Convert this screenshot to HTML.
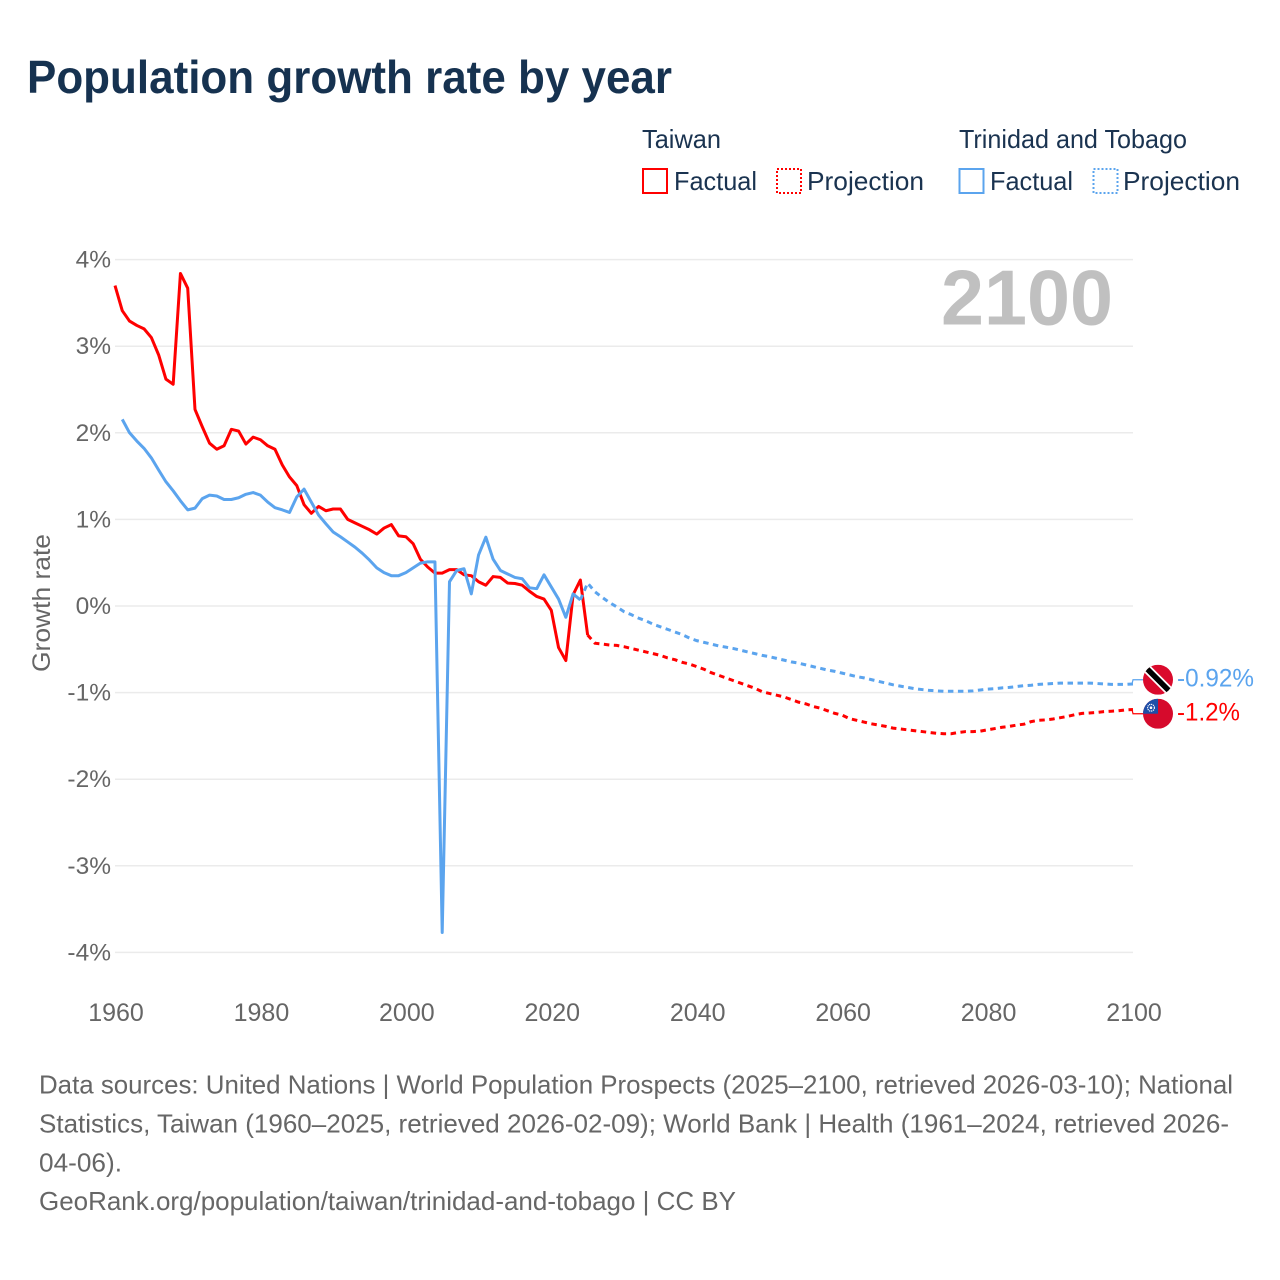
<!DOCTYPE html>
<html lang="en">
<head>
<meta charset="utf-8">
<title>Population growth rate by year</title>
<style>
html,body{margin:0;padding:0;background:#fff;}
svg{display:block;font-family:"Liberation Sans",sans-serif;}
</style>
</head>
<body>
<svg id="chart" width="1280" height="1280" viewBox="0 0 1280 1280" xmlns="http://www.w3.org/2000/svg">
  <defs>
    <clipPath id="clip-flag-tt"><circle cx="15" cy="15" r="15"/></clipPath>
    <clipPath id="clip-flag-tw"><circle cx="15" cy="15" r="15"/></clipPath>
  </defs>
  <rect width="1280" height="1280" fill="#fff"/>
  <text x="27" y="93" font-size="46" font-weight="700" fill="#163250" textLength="645" lengthAdjust="spacingAndGlyphs">Population growth rate by year</text>

  <g font-size="26" fill="#1a3350">
    <text x="642" y="148" textLength="79" lengthAdjust="spacingAndGlyphs">Taiwan</text>
    <text x="959" y="148" textLength="228" lengthAdjust="spacingAndGlyphs">Trinidad and Tobago</text>
    <rect x="643" y="169" width="24" height="24" fill="none" stroke="#ff0000" stroke-width="2"/>
    <text x="674" y="190" textLength="83" lengthAdjust="spacingAndGlyphs">Factual</text>
    <rect x="777" y="169" width="24" height="24" fill="none" stroke="#ff0000" stroke-width="2" stroke-dasharray="2,2"/>
    <text x="807" y="190" textLength="117" lengthAdjust="spacingAndGlyphs">Projection</text>
    <rect x="959.500" y="169" width="24" height="24" fill="none" stroke="#5ba4ee" stroke-width="2"/>
    <text x="990" y="190" textLength="83" lengthAdjust="spacingAndGlyphs">Factual</text>
    <rect x="1093.500" y="169" width="24" height="24" fill="none" stroke="#5ba4ee" stroke-width="2" stroke-dasharray="2,2"/>
    <text x="1123" y="190" textLength="117" lengthAdjust="spacingAndGlyphs">Projection</text>
  </g>

  <text transform="translate(50,603) rotate(-90)" text-anchor="middle" font-size="25" fill="#666" textLength="138" lengthAdjust="spacingAndGlyphs">Growth rate</text>

  <g id="grid"></g>
  <g id="y-ticks"></g>
  <g id="x-ticks"></g>

  <text x="941" y="324.500" font-size="78" font-weight="700" fill="#c0c0c0" textLength="172" lengthAdjust="spacingAndGlyphs">2100</text>

  <g id="series"></g>
  <g id="end-labels"></g>

  <g font-size="26" fill="#666">
    <text x="39" y="1093.500" textLength="1194" lengthAdjust="spacingAndGlyphs">Data sources: United Nations | World Population Prospects (2025–2100, retrieved 2026-03-10); National</text>
    <text x="39" y="1132.500" textLength="1190" lengthAdjust="spacingAndGlyphs">Statistics, Taiwan (1960–2025, retrieved 2026-02-09); World Bank | Health (1961–2024, retrieved 2026-</text>
    <text x="39" y="1171.500" textLength="83" lengthAdjust="spacingAndGlyphs">04-06).</text>
    <text x="39" y="1210" textLength="697" lengthAdjust="spacingAndGlyphs">GeoRank.org/population/taiwan/trinidad-and-tobago | CC BY</text>
  </g>
</svg>
<script>
var yTicks = [4, 3, 2, 1, 0, -1, -2, -3, -4];
var xTicks = [1960, 1980, 2000, 2020, 2040, 2060, 2080, 2100];

var taiwanFactualStart = 1960;
var taiwanFactual = [3.70,3.41,3.29,3.24,3.20,3.10,2.90,2.62,2.56,3.84,3.67,2.27,2.07,1.88,1.81,1.85,2.04,2.02,1.87,1.95,1.92,1.85,1.81,1.63,1.49,1.39,1.17,1.07,1.15,1.10,1.12,1.12,1.00,0.96,0.92,0.88,0.83,0.90,0.94,0.81,0.80,0.72,0.54,0.45,0.38,0.38,0.42,0.42,0.36,0.35,0.28,0.24,0.34,0.33,0.265,0.26,0.24,0.17,0.11,0.08,-0.05,-0.48,-0.63,0.13,0.30,-0.335];

var taiwanProjectionStart = 2025;
var taiwanProjection = [-0.335,-0.43,-0.44,-0.45,-0.455,-0.47,-0.49,-0.51,-0.53,-0.55,-0.57,-0.60,-0.62,-0.65,-0.67,-0.70,-0.73,-0.77,-0.80,-0.83,-0.86,-0.89,-0.92,-0.95,-0.99,-1.01,-1.03,-1.05,-1.08,-1.11,-1.13,-1.16,-1.18,-1.21,-1.24,-1.26,-1.30,-1.32,-1.34,-1.36,-1.375,-1.39,-1.41,-1.42,-1.43,-1.44,-1.45,-1.46,-1.47,-1.475,-1.475,-1.46,-1.45,-1.45,-1.445,-1.43,-1.415,-1.40,-1.39,-1.375,-1.365,-1.335,-1.32,-1.315,-1.305,-1.29,-1.275,-1.255,-1.24,-1.235,-1.23,-1.22,-1.215,-1.21,-1.20,-1.195];

var trinidadFactualStart = 1961;
var trinidadFactual = [2.155,2.00,1.905,1.82,1.71,1.57,1.435,1.33,1.215,1.11,1.13,1.24,1.28,1.27,1.23,1.23,1.25,1.29,1.31,1.28,1.20,1.135,1.11,1.08,1.26,1.35,1.20,1.05,0.95,0.855,0.80,0.74,0.68,0.61,0.53,0.44,0.385,0.35,0.35,0.385,0.44,0.495,0.51,0.51,-3.77,0.28,0.41,0.43,0.14,0.59,0.795,0.54,0.41,0.37,0.33,0.315,0.21,0.20,0.36,0.22,0.08,-0.13,0.14,0.07];

var trinidadProjectionStart = 2024;
var trinidadProjection = [0.07,0.265,0.165,0.10,0.04,-0.01,-0.065,-0.10,-0.14,-0.17,-0.21,-0.24,-0.27,-0.30,-0.33,-0.37,-0.40,-0.42,-0.44,-0.46,-0.475,-0.49,-0.51,-0.53,-0.55,-0.57,-0.585,-0.605,-0.625,-0.645,-0.66,-0.68,-0.70,-0.72,-0.74,-0.755,-0.775,-0.795,-0.815,-0.83,-0.85,-0.87,-0.89,-0.91,-0.925,-0.94,-0.955,-0.965,-0.975,-0.98,-0.985,-0.985,-0.985,-0.985,-0.98,-0.97,-0.96,-0.955,-0.945,-0.94,-0.93,-0.92,-0.915,-0.905,-0.90,-0.895,-0.89,-0.89,-0.89,-0.89,-0.89,-0.895,-0.90,-0.905,-0.905,-0.905,-0.90];

var endLabelTexts = ["-0.92%", "-1.2%"];

var NS = "http://www.w3.org/2000/svg";
var RED = "#ff0000";
var BLUE = "#5ba4ee";

function xScale(year) { return 115 + (year - 1960) * (1018 / 140); }
function yScale(v) { return 606 - v * 86.6; }

function mk(tag, attrs, parent) {
  var el = document.createElementNS(NS, tag);
  for (var k in attrs) el.setAttribute(k, attrs[k]);
  parent.appendChild(el);
  return el;
}
function linePoints(start, values) {
  return values.map(function (v, i) {
    return xScale(start + i).toFixed(2) + "," + yScale(v).toFixed(2);
  }).join(" ");
}

var gridG = document.getElementById("grid");
var yG = document.getElementById("y-ticks");
yTicks.forEach(function (t) {
  var ln = mk("line", {x1: 115, x2: 1133, y1: yScale(t), y2: yScale(t), stroke: "#ebebeb", "stroke-width": 1.5}, gridG);
  
  
  var tx = mk("text", {x: 111, y: yScale(t) + 8, "text-anchor": "end", "font-size": 24.5, fill: "#666"}, yG);
  
  
  tx.textContent = t + "%";
});

var xG = document.getElementById("x-ticks");
xTicks.forEach(function (t) {
  var tx = mk("text", {x: xScale(t) + 1, y: 1021, "text-anchor": "middle", "font-size": 25, fill: "#666"}, xG);
  
  
  tx.textContent = t;
});

var seriesG = document.getElementById("series");
var l1 = mk("polyline", {points: linePoints(taiwanFactualStart, taiwanFactual), fill: "none", stroke: RED, "stroke-width": 3, "stroke-linejoin": "round"}, seriesG);


var l2 = mk("polyline", {points: linePoints(taiwanProjectionStart, taiwanProjection), fill: "none", stroke: RED, "stroke-width": 3, "stroke-dasharray": "5.5,4.5"}, seriesG);


var l3 = mk("polyline", {points: linePoints(trinidadFactualStart, trinidadFactual), fill: "none", stroke: BLUE, "stroke-width": 3, "stroke-linejoin": "round"}, seriesG);


var l4 = mk("polyline", {points: linePoints(trinidadProjectionStart, trinidadProjection), fill: "none", stroke: BLUE, "stroke-width": 3, "stroke-dasharray": "5.5,4.5"}, seriesG);



/* End markers: placed from the last values, pushed apart so flags do not overlap */
var lastT = yScale(trinidadProjection[trinidadProjection.length - 1]);
var lastR = yScale(taiwanProjection[taiwanProjection.length - 1]);
var mid = (lastT + lastR) / 2;
var half = Math.max(17, Math.abs(lastR - lastT) / 2);
var flagYT = mid - half;
var flagYR = mid + half;
var endX = xScale(2100);
var endG = document.getElementById("end-labels");

var c1 = mk("polyline", {points: (endX - 1) + "," + lastT + " " + endX + "," + flagYT + " 1143," + flagYT, fill: "none", stroke: BLUE, "stroke-width": 1.2}, endG);


var c2 = mk("polyline", {points: (endX - 1) + "," + lastR + " " + endX + "," + flagYR + " 1143," + flagYR, fill: "none", stroke: RED, "stroke-width": 1.2}, endG);



/* Trinidad and Tobago flag */
var ft = mk("g", {transform: "translate(1143," + (flagYT - 15) + ")", "clip-path": "url(#clip-flag-tt)"}, endG);


mk("rect", {x: 0, y: 0, width: 30, height: 30, fill: "#da0a2c"}, ft);
mk("line", {x1: 0, y1: 0, x2: 30, y2: 30, stroke: "#fff", "stroke-width": 9}, ft);
mk("line", {x1: 0, y1: 0, x2: 30, y2: 30, stroke: "#000", "stroke-width": 5.5}, ft);

/* Taiwan flag */
var fr = mk("g", {transform: "translate(1143," + (flagYR - 15) + ")", "clip-path": "url(#clip-flag-tw)"}, endG);


mk("rect", {x: 0, y: 0, width: 30, height: 30, fill: "#d60a2c"}, fr);
mk("rect", {x: 0, y: 0, width: 15, height: 15, fill: "#1d4fa8"}, fr);
mk("circle", {cx: 8, cy: 9, r: 3.4, fill: "none", stroke: "#fff", "stroke-width": 1.2, "stroke-dasharray": "1.2,0.8"}, fr);
mk("circle", {cx: 8, cy: 9, r: 1.3, fill: "#fff"}, fr);

var lt = mk("text", {x: 1177, y: flagYT + 7, "font-size": 25, fill: BLUE, textLength: 77, lengthAdjust: "spacingAndGlyphs"}, endG);


lt.textContent = endLabelTexts[0];
var lr = mk("text", {x: 1177, y: flagYR + 7, "font-size": 25, fill: RED, textLength: 63, lengthAdjust: "spacingAndGlyphs"}, endG);


lr.textContent = endLabelTexts[1];
</script>
</body>
</html>
